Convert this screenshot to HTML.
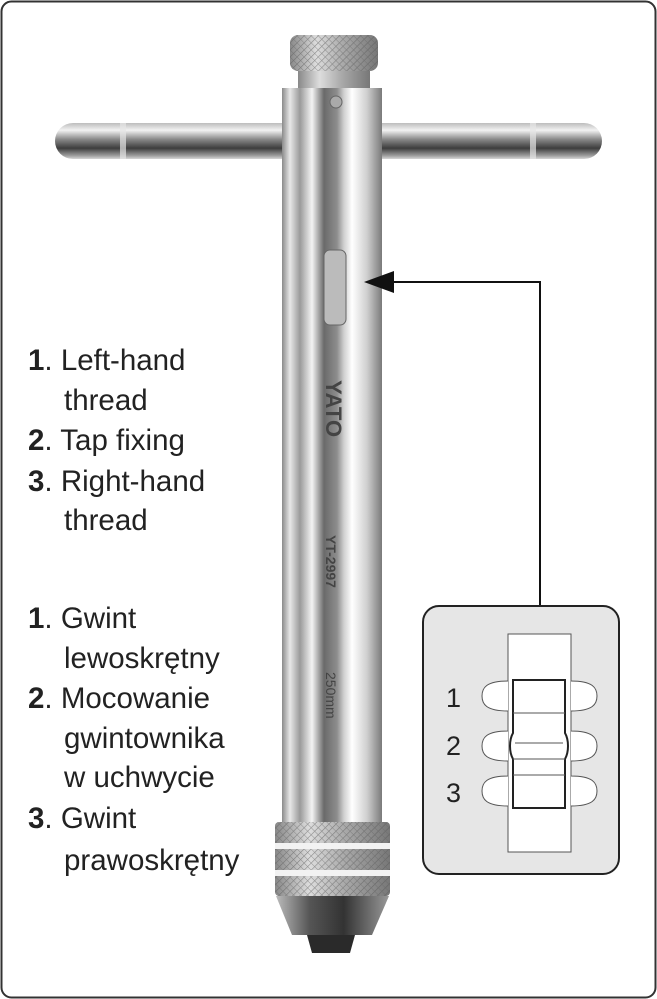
<!DOCTYPE html>
<html><head><meta charset="utf-8"><style>
html,body{margin:0;padding:0;background:#fff;}
svg{display:block}
</style></head><body>
<svg width="657" height="999" viewBox="0 0 657 999" xmlns="http://www.w3.org/2000/svg">
<defs>
<linearGradient id="tube" x1="0" x2="1" y1="0" y2="0">
<stop offset="0" stop-color="#8a8a8a"/><stop offset="0.08" stop-color="#e8e8e8"/><stop offset="0.18" stop-color="#9a9a9a"/>
<stop offset="0.3" stop-color="#f4f4f4"/><stop offset="0.42" stop-color="#6a6a6a"/><stop offset="0.55" stop-color="#8d8d8d"/>
<stop offset="0.62" stop-color="#d0d0d0"/><stop offset="0.7" stop-color="#ffffff"/><stop offset="0.85" stop-color="#cfcfcf"/><stop offset="1" stop-color="#7a7a7a"/>
</linearGradient>
<linearGradient id="bar" x1="0" x2="0" y1="0" y2="1">
<stop offset="0" stop-color="#bdbdbd"/><stop offset="0.2" stop-color="#f2f2f2"/><stop offset="0.45" stop-color="#8a8a8a"/>
<stop offset="0.7" stop-color="#3d3d3d"/><stop offset="0.9" stop-color="#9a9a9a"/><stop offset="1" stop-color="#d6d6d6"/>
</linearGradient>
<linearGradient id="knurl" x1="0" x2="1">
<stop offset="0" stop-color="#888"/><stop offset="0.3" stop-color="#ddd"/><stop offset="0.6" stop-color="#aaa"/><stop offset="1" stop-color="#777"/>
</linearGradient>
<linearGradient id="cone" x1="0" x2="1">
<stop offset="0" stop-color="#bbb"/><stop offset="0.3" stop-color="#555"/><stop offset="0.6" stop-color="#333"/><stop offset="1" stop-color="#999"/>
</linearGradient>
<pattern id="kp" width="5" height="5" patternUnits="userSpaceOnUse" patternTransform="rotate(45)">
<rect width="5" height="5" fill="none"/><line x1="0" y1="0" x2="0" y2="5" stroke="#555" stroke-width="1.2"/><line x1="0" y1="0" x2="5" y2="0" stroke="#666" stroke-width="1"/>
</pattern>
</defs>
<rect x="1.5" y="1.5" width="654" height="996" rx="10" fill="#fff" stroke="#333" stroke-width="2"/>

<rect x="55" y="123" width="547" height="36" rx="18" fill="url(#bar)"/>
<rect x="120" y="123" width="6" height="36" fill="#e6e6e6" opacity="0.7"/>
<rect x="530" y="123" width="6" height="36" fill="#e6e6e6" opacity="0.7"/>

<rect x="298" y="68" width="72" height="22" fill="url(#knurl)"/>
<rect x="290" y="35" width="88" height="36" rx="8" fill="url(#knurl)"/>
<rect x="290" y="35" width="88" height="36" rx="8" fill="url(#kp)" opacity="0.6"/>

<rect x="282" y="88" width="100" height="740" fill="url(#tube)"/>
<circle cx="336" cy="102" r="6" fill="#aaa" stroke="#666"/>
<rect x="324" y="250" width="22" height="75" rx="6" fill="#bbb" stroke="#666"/>
<text x="0" y="0" transform="translate(326,380) rotate(90)" font-family="Liberation Sans, sans-serif" font-weight="bold" font-size="22" fill="#444">YATO</text>
<text x="0" y="0" transform="translate(326,535) rotate(90)" font-family="Liberation Sans, sans-serif" font-weight="bold" font-size="14" fill="#444">YT-2997</text>
<text x="0" y="0" transform="translate(326,672) rotate(90)" font-family="Liberation Sans, sans-serif" font-size="14" fill="#444">250mm</text>

<rect x="275" y="822" width="115" height="74" rx="4" fill="url(#knurl)"/>
<rect x="275" y="822" width="115" height="74" rx="4" fill="url(#kp)" opacity="0.6"/>
<rect x="275" y="843" width="115" height="6" fill="#f2f2f2"/>
<rect x="275" y="870" width="115" height="6" fill="#f2f2f2"/>
<path d="M276 896 L389 896 L372 935 L292 935 Z" fill="url(#cone)"/>
<path d="M307 935 L355 935 L350 953 L312 953 Z" fill="#2a2a2a"/>

<polyline points="378,282 540,282 540,606" fill="none" stroke="#111" stroke-width="2"/>
<path d="M364 282 L394 271 L394 293 Z" fill="#111"/>

<rect x="423" y="606" width="196" height="268" rx="16" fill="#e6e6e6" stroke="#222" stroke-width="2"/>
<rect x="508" y="634" width="63" height="218" fill="#fff" stroke="#555" stroke-width="1"/>
<path d="M508 681 C486 681 482 688 482 696 C482 704 486 711 508 711 L508 731 C486 731 482 738 482 746 C482 754 486 761 508 761 L508 776 C486 776 482 783 482 791 C482 799 486 806 508 806" fill="#fff" stroke="#555"/>
<path d="M571 681 C593 681 597 688 597 696 C597 704 593 711 571 711 L571 731 C593 731 597 738 597 746 C597 754 593 761 571 761 L571 776 C593 776 597 783 597 791 C597 799 593 806 571 806" fill="#fff" stroke="#555"/>
<rect x="508.5" y="681" width="62" height="125" fill="#fff"/>
<path d="M513 680 L565 680 L565 733 C569 740 569 752 565 759 L565 808 L513 808 L513 759 C509 752 509 740 513 733 Z" fill="#fff" stroke="#222" stroke-width="2"/>
<line x1="513" y1="713" x2="565" y2="713" stroke="#555"/>
<line x1="515" y1="743" x2="563" y2="743" stroke="#555"/>
<line x1="513" y1="759" x2="565" y2="759" stroke="#555"/>
<line x1="513" y1="775" x2="565" y2="775" stroke="#555"/>
<g font-family="Liberation Sans, sans-serif" font-size="27" fill="#222">
<text x="446" y="707">1</text><text x="446" y="755">2</text><text x="446" y="802">3</text>
</g>

<g font-family="Liberation Sans, sans-serif" font-size="29.5" fill="#222">
<text x="28" y="370"><tspan font-weight="bold">1</tspan>. Left-hand</text>
<text x="64" y="410">thread</text>
<text x="28" y="450"><tspan font-weight="bold">2</tspan>. Tap fixing</text>
<text x="28" y="491"><tspan font-weight="bold">3</tspan>. Right-hand</text>
<text x="64" y="530">thread</text>
<text x="28" y="628"><tspan font-weight="bold">1</tspan>. Gwint</text>
<text x="64" y="668">lewoskrętny</text>
<text x="28" y="708"><tspan font-weight="bold">2</tspan>. Mocowanie</text>
<text x="64" y="748">gwintownika</text>
<text x="64" y="787">w uchwycie</text>
<text x="28" y="828"><tspan font-weight="bold">3</tspan>. Gwint</text>
<text x="64" y="870">prawoskrętny</text>
</g>
</svg>
</body></html>
